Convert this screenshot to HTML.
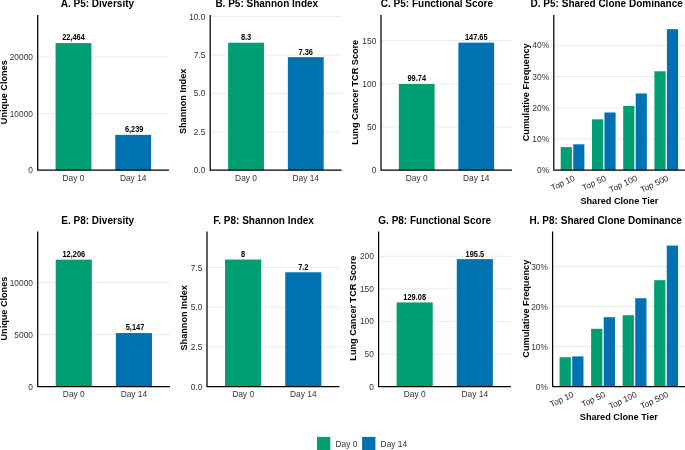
<!DOCTYPE html>
<html><head><meta charset="utf-8"><style>
html,body{margin:0;padding:0;background:#fff;}
body{width:685px;height:450px;overflow:hidden;}
svg{display:block;will-change:transform;font-family:"Liberation Sans",sans-serif;}
</style></head><body>
<svg width="685" height="450" viewBox="0 0 685 450">
<rect width="685" height="450" fill="#fff"/>
<text x="33.00" y="173.21" font-size="8.4" font-weight="normal" text-anchor="end" fill="#333333" >0</text>
<line x1="37.70" y1="113.60" x2="169.00" y2="113.60" stroke="#EBEBEB" stroke-width="1.0"/>
<text x="33.00" y="116.61" font-size="8.4" font-weight="normal" text-anchor="end" fill="#333333" >10000</text>
<line x1="37.70" y1="57.00" x2="169.00" y2="57.00" stroke="#EBEBEB" stroke-width="1.0"/>
<text x="33.00" y="60.01" font-size="8.4" font-weight="normal" text-anchor="end" fill="#333333" >20000</text>
<rect x="55.60" y="43.05" width="35.81" height="127.15" fill="#009E73"/>
<text x="0" y="0" font-size="8.4" font-weight="bold" text-anchor="middle" fill="#000" transform="translate(73.51,40.45) scale(0.885,1)">22,464</text>
<rect x="115.29" y="134.89" width="35.81" height="35.31" fill="#0072B2"/>
<text x="0" y="0" font-size="8.4" font-weight="bold" text-anchor="middle" fill="#000" transform="translate(134.19,132.29) scale(0.885,1)">6,239</text>
<path d="M37.70,15.00 L37.70,170.20 L169.00,170.20" fill="none" stroke="#000" stroke-width="1.25" stroke-linejoin="round"/>
<text x="73.51" y="180.91" font-size="8.4" font-weight="normal" text-anchor="middle" fill="#333333" >Day 0</text>
<text x="133.19" y="180.91" font-size="8.4" font-weight="normal" text-anchor="middle" fill="#333333" >Day 14</text>
<text x="0" y="0" font-size="9.15" font-weight="bold" text-anchor="middle" fill="#000" transform="translate(6.90,92.20) rotate(-90)">Unique Clones</text>
<text x="60.70" y="7.30" font-size="10" font-weight="bold" text-anchor="start" fill="#000" >A. P5: Diversity</text>
<text x="205.50" y="173.21" font-size="8.4" font-weight="normal" text-anchor="end" fill="#333333" >0.0</text>
<line x1="210.20" y1="131.80" x2="341.60" y2="131.80" stroke="#EBEBEB" stroke-width="1.0"/>
<text x="205.50" y="134.81" font-size="8.4" font-weight="normal" text-anchor="end" fill="#333333" >2.5</text>
<line x1="210.20" y1="93.40" x2="341.60" y2="93.40" stroke="#EBEBEB" stroke-width="1.0"/>
<text x="205.50" y="96.41" font-size="8.4" font-weight="normal" text-anchor="end" fill="#333333" >5.0</text>
<line x1="210.20" y1="55.00" x2="341.60" y2="55.00" stroke="#EBEBEB" stroke-width="1.0"/>
<text x="205.50" y="58.01" font-size="8.4" font-weight="normal" text-anchor="end" fill="#333333" >7.5</text>
<line x1="210.20" y1="16.60" x2="341.60" y2="16.60" stroke="#EBEBEB" stroke-width="1.0"/>
<text x="205.50" y="19.61" font-size="8.4" font-weight="normal" text-anchor="end" fill="#333333" >10.0</text>
<rect x="228.12" y="42.71" width="35.84" height="127.49" fill="#009E73"/>
<text x="0" y="0" font-size="8.4" font-weight="bold" text-anchor="middle" fill="#000" transform="translate(246.04,40.11) scale(0.885,1)">8.3</text>
<rect x="287.85" y="57.15" width="35.84" height="113.05" fill="#0072B2"/>
<text x="0" y="0" font-size="8.4" font-weight="bold" text-anchor="middle" fill="#000" transform="translate(305.76,54.55) scale(0.885,1)">7.36</text>
<path d="M210.20,15.00 L210.20,170.20 L341.60,170.20" fill="none" stroke="#000" stroke-width="1.25" stroke-linejoin="round"/>
<text x="246.04" y="180.91" font-size="8.4" font-weight="normal" text-anchor="middle" fill="#333333" >Day 0</text>
<text x="305.76" y="180.91" font-size="8.4" font-weight="normal" text-anchor="middle" fill="#333333" >Day 14</text>
<text x="0" y="0" font-size="9.15" font-weight="bold" text-anchor="middle" fill="#000" transform="translate(186.30,101.40) rotate(-90)">Shannon Index</text>
<text x="215.40" y="7.30" font-size="10" font-weight="bold" text-anchor="start" fill="#000" >B. P5: Shannon Index</text>
<text x="376.30" y="173.21" font-size="8.4" font-weight="normal" text-anchor="end" fill="#333333" >0</text>
<line x1="381.00" y1="127.00" x2="512.00" y2="127.00" stroke="#EBEBEB" stroke-width="1.0"/>
<text x="376.30" y="130.01" font-size="8.4" font-weight="normal" text-anchor="end" fill="#333333" >50</text>
<line x1="381.00" y1="83.80" x2="512.00" y2="83.80" stroke="#EBEBEB" stroke-width="1.0"/>
<text x="376.30" y="86.81" font-size="8.4" font-weight="normal" text-anchor="end" fill="#333333" >100</text>
<line x1="381.00" y1="40.60" x2="512.00" y2="40.60" stroke="#EBEBEB" stroke-width="1.0"/>
<text x="376.30" y="43.61" font-size="8.4" font-weight="normal" text-anchor="end" fill="#333333" >150</text>
<rect x="398.86" y="84.02" width="35.73" height="86.18" fill="#009E73"/>
<text x="0" y="0" font-size="8.4" font-weight="bold" text-anchor="middle" fill="#000" transform="translate(416.73,81.42) scale(0.885,1)">99.74</text>
<rect x="458.41" y="42.63" width="35.73" height="127.57" fill="#0072B2"/>
<text x="0" y="0" font-size="8.4" font-weight="bold" text-anchor="middle" fill="#000" transform="translate(476.27,40.03) scale(0.885,1)">147.65</text>
<path d="M381.00,15.00 L381.00,170.20 L512.00,170.20" fill="none" stroke="#000" stroke-width="1.25" stroke-linejoin="round"/>
<text x="416.73" y="180.91" font-size="8.4" font-weight="normal" text-anchor="middle" fill="#333333" >Day 0</text>
<text x="476.27" y="180.91" font-size="8.4" font-weight="normal" text-anchor="middle" fill="#333333" >Day 14</text>
<text x="0" y="0" font-size="9.15" font-weight="bold" text-anchor="middle" fill="#000" transform="translate(358.30,92.30) rotate(-90)">Lung Cancer TCR Score</text>
<text x="380.80" y="7.30" font-size="10" font-weight="bold" text-anchor="start" fill="#000" >C. P5: Functional Score</text>
<text x="549.10" y="173.21" font-size="8.4" font-weight="normal" text-anchor="end" fill="#333333" >0%</text>
<line x1="553.80" y1="139.00" x2="685.00" y2="139.00" stroke="#EBEBEB" stroke-width="1.0"/>
<text x="549.10" y="142.01" font-size="8.4" font-weight="normal" text-anchor="end" fill="#333333" >10%</text>
<line x1="553.80" y1="107.80" x2="685.00" y2="107.80" stroke="#EBEBEB" stroke-width="1.0"/>
<text x="549.10" y="110.81" font-size="8.4" font-weight="normal" text-anchor="end" fill="#333333" >20%</text>
<line x1="553.80" y1="76.60" x2="685.00" y2="76.60" stroke="#EBEBEB" stroke-width="1.0"/>
<text x="549.10" y="79.61" font-size="8.4" font-weight="normal" text-anchor="end" fill="#333333" >30%</text>
<line x1="553.80" y1="45.40" x2="685.00" y2="45.40" stroke="#EBEBEB" stroke-width="1.0"/>
<text x="549.10" y="48.41" font-size="8.4" font-weight="normal" text-anchor="end" fill="#333333" >40%</text>
<rect x="560.72" y="147.11" width="11.15" height="23.09" fill="#009E73"/>
<rect x="573.21" y="144.30" width="11.15" height="25.90" fill="#0072B2"/>
<rect x="591.96" y="119.34" width="11.15" height="50.86" fill="#009E73"/>
<rect x="604.45" y="112.48" width="11.15" height="57.72" fill="#0072B2"/>
<rect x="623.20" y="105.93" width="11.15" height="64.27" fill="#009E73"/>
<rect x="635.69" y="93.45" width="11.15" height="76.75" fill="#0072B2"/>
<rect x="654.43" y="71.30" width="11.15" height="98.90" fill="#009E73"/>
<rect x="666.93" y="29.18" width="11.15" height="141.02" fill="#0072B2"/>
<path d="M553.80,15.00 L553.80,170.20 L685.00,170.20" fill="none" stroke="#000" stroke-width="1.25" stroke-linejoin="round"/>
<text x="0" y="6.01" font-size="8.4" text-anchor="end" fill="#222" transform="translate(572.84,174.70) rotate(-25)">Top 10</text>
<text x="0" y="6.01" font-size="8.4" text-anchor="end" fill="#222" transform="translate(604.08,174.70) rotate(-25)">Top 50</text>
<text x="0" y="6.01" font-size="8.4" text-anchor="end" fill="#222" transform="translate(635.32,174.70) rotate(-25)">Top 100</text>
<text x="0" y="6.01" font-size="8.4" text-anchor="end" fill="#222" transform="translate(666.56,174.70) rotate(-25)">Top 500</text>
<text x="0" y="0" font-size="9.15" font-weight="bold" text-anchor="middle" fill="#000" transform="translate(528.60,92.30) rotate(-90)">Cumulative Frequency</text>
<text x="619.40" y="203.70" font-size="9.15" font-weight="bold" text-anchor="middle" fill="#000" >Shared Clone Tier</text>
<text x="530.60" y="7.30" font-size="10" font-weight="bold" text-anchor="start" fill="#000" >D. P5: Shared Clone Dominance</text>
<text x="33.00" y="389.61" font-size="8.4" font-weight="normal" text-anchor="end" fill="#333333" >0</text>
<line x1="37.70" y1="334.60" x2="170.00" y2="334.60" stroke="#EBEBEB" stroke-width="1.0"/>
<text x="33.00" y="337.61" font-size="8.4" font-weight="normal" text-anchor="end" fill="#333333" >5000</text>
<line x1="37.70" y1="282.60" x2="170.00" y2="282.60" stroke="#EBEBEB" stroke-width="1.0"/>
<text x="33.00" y="285.61" font-size="8.4" font-weight="normal" text-anchor="end" fill="#333333" >10000</text>
<rect x="55.74" y="259.66" width="36.08" height="126.94" fill="#009E73"/>
<text x="0" y="0" font-size="8.4" font-weight="bold" text-anchor="middle" fill="#000" transform="translate(73.78,257.06) scale(0.885,1)">12,206</text>
<rect x="115.88" y="333.07" width="36.08" height="53.53" fill="#0072B2"/>
<text x="0" y="0" font-size="8.4" font-weight="bold" text-anchor="middle" fill="#000" transform="translate(135.02,330.47) scale(0.885,1)">5,147</text>
<path d="M37.70,231.40 L37.70,386.60 L170.00,386.60" fill="none" stroke="#000" stroke-width="1.25" stroke-linejoin="round"/>
<text x="73.78" y="397.31" font-size="8.4" font-weight="normal" text-anchor="middle" fill="#333333" >Day 0</text>
<text x="133.92" y="397.31" font-size="8.4" font-weight="normal" text-anchor="middle" fill="#333333" >Day 14</text>
<text x="0" y="0" font-size="9.15" font-weight="bold" text-anchor="middle" fill="#000" transform="translate(6.90,308.60) rotate(-90)">Unique Clones</text>
<text x="61.30" y="224.00" font-size="10" font-weight="bold" text-anchor="start" fill="#000" >E. P8: Diversity</text>
<text x="202.30" y="389.61" font-size="8.4" font-weight="normal" text-anchor="end" fill="#333333" >0.0</text>
<line x1="207.00" y1="346.90" x2="339.40" y2="346.90" stroke="#EBEBEB" stroke-width="1.0"/>
<text x="202.30" y="349.91" font-size="8.4" font-weight="normal" text-anchor="end" fill="#333333" >2.5</text>
<line x1="207.00" y1="307.20" x2="339.40" y2="307.20" stroke="#EBEBEB" stroke-width="1.0"/>
<text x="202.30" y="310.21" font-size="8.4" font-weight="normal" text-anchor="end" fill="#333333" >5.0</text>
<line x1="207.00" y1="267.50" x2="339.40" y2="267.50" stroke="#EBEBEB" stroke-width="1.0"/>
<text x="202.30" y="270.51" font-size="8.4" font-weight="normal" text-anchor="end" fill="#333333" >7.5</text>
<rect x="225.05" y="259.56" width="36.11" height="127.04" fill="#009E73"/>
<text x="0" y="0" font-size="8.4" font-weight="bold" text-anchor="middle" fill="#000" transform="translate(243.11,256.96) scale(0.885,1)">8</text>
<rect x="285.24" y="272.26" width="36.11" height="114.34" fill="#0072B2"/>
<text x="0" y="0" font-size="8.4" font-weight="bold" text-anchor="middle" fill="#000" transform="translate(303.29,269.66) scale(0.885,1)">7.2</text>
<path d="M207.00,231.40 L207.00,386.60 L339.40,386.60" fill="none" stroke="#000" stroke-width="1.25" stroke-linejoin="round"/>
<text x="243.11" y="397.31" font-size="8.4" font-weight="normal" text-anchor="middle" fill="#333333" >Day 0</text>
<text x="303.29" y="397.31" font-size="8.4" font-weight="normal" text-anchor="middle" fill="#333333" >Day 14</text>
<text x="0" y="0" font-size="9.15" font-weight="bold" text-anchor="middle" fill="#000" transform="translate(187.00,317.80) rotate(-90)">Shannon Index</text>
<text x="213.30" y="224.00" font-size="10" font-weight="bold" text-anchor="start" fill="#000" >F. P8: Shannon Index</text>
<text x="373.90" y="389.61" font-size="8.4" font-weight="normal" text-anchor="end" fill="#333333" >0</text>
<line x1="378.60" y1="354.00" x2="510.90" y2="354.00" stroke="#EBEBEB" stroke-width="1.0"/>
<text x="373.90" y="357.01" font-size="8.4" font-weight="normal" text-anchor="end" fill="#333333" >50</text>
<line x1="378.60" y1="321.40" x2="510.90" y2="321.40" stroke="#EBEBEB" stroke-width="1.0"/>
<text x="373.90" y="324.41" font-size="8.4" font-weight="normal" text-anchor="end" fill="#333333" >100</text>
<line x1="378.60" y1="288.80" x2="510.90" y2="288.80" stroke="#EBEBEB" stroke-width="1.0"/>
<text x="373.90" y="291.81" font-size="8.4" font-weight="normal" text-anchor="end" fill="#333333" >150</text>
<line x1="378.60" y1="256.20" x2="510.90" y2="256.20" stroke="#EBEBEB" stroke-width="1.0"/>
<text x="373.90" y="259.21" font-size="8.4" font-weight="normal" text-anchor="end" fill="#333333" >200</text>
<rect x="396.64" y="302.44" width="36.08" height="84.16" fill="#009E73"/>
<text x="0" y="0" font-size="8.4" font-weight="bold" text-anchor="middle" fill="#000" transform="translate(414.68,299.84) scale(0.885,1)">129.08</text>
<rect x="456.78" y="259.13" width="36.08" height="127.47" fill="#0072B2"/>
<text x="0" y="0" font-size="8.4" font-weight="bold" text-anchor="middle" fill="#000" transform="translate(474.82,256.53) scale(0.885,1)">195.5</text>
<path d="M378.60,231.40 L378.60,386.60 L510.90,386.60" fill="none" stroke="#000" stroke-width="1.25" stroke-linejoin="round"/>
<text x="414.68" y="397.31" font-size="8.4" font-weight="normal" text-anchor="middle" fill="#333333" >Day 0</text>
<text x="474.82" y="397.31" font-size="8.4" font-weight="normal" text-anchor="middle" fill="#333333" >Day 14</text>
<text x="0" y="0" font-size="9.15" font-weight="bold" text-anchor="middle" fill="#000" transform="translate(356.20,308.20) rotate(-90)">Lung Cancer TCR Score</text>
<text x="378.30" y="224.00" font-size="10" font-weight="bold" text-anchor="start" fill="#000" >G. P8: Functional Score</text>
<text x="547.90" y="389.61" font-size="8.4" font-weight="normal" text-anchor="end" fill="#333333" >0%</text>
<line x1="552.60" y1="346.60" x2="685.00" y2="346.60" stroke="#EBEBEB" stroke-width="1.0"/>
<text x="547.90" y="349.61" font-size="8.4" font-weight="normal" text-anchor="end" fill="#333333" >10%</text>
<line x1="552.60" y1="306.60" x2="685.00" y2="306.60" stroke="#EBEBEB" stroke-width="1.0"/>
<text x="547.90" y="309.61" font-size="8.4" font-weight="normal" text-anchor="end" fill="#333333" >20%</text>
<line x1="552.60" y1="266.60" x2="685.00" y2="266.60" stroke="#EBEBEB" stroke-width="1.0"/>
<text x="547.90" y="269.61" font-size="8.4" font-weight="normal" text-anchor="end" fill="#333333" >30%</text>
<rect x="559.58" y="357.20" width="11.25" height="29.40" fill="#009E73"/>
<rect x="572.19" y="356.40" width="11.25" height="30.20" fill="#0072B2"/>
<rect x="591.11" y="328.80" width="11.25" height="57.80" fill="#009E73"/>
<rect x="603.72" y="317.20" width="11.25" height="69.40" fill="#0072B2"/>
<rect x="622.63" y="315.20" width="11.25" height="71.40" fill="#009E73"/>
<rect x="635.24" y="298.20" width="11.25" height="88.40" fill="#0072B2"/>
<rect x="654.15" y="280.20" width="11.25" height="106.40" fill="#009E73"/>
<rect x="666.76" y="245.60" width="11.25" height="141.00" fill="#0072B2"/>
<path d="M552.60,231.40 L552.60,386.60 L685.00,386.60" fill="none" stroke="#000" stroke-width="1.25" stroke-linejoin="round"/>
<text x="0" y="6.01" font-size="8.4" text-anchor="end" fill="#222" transform="translate(571.81,391.10) rotate(-25)">Top 10</text>
<text x="0" y="6.01" font-size="8.4" text-anchor="end" fill="#222" transform="translate(603.34,391.10) rotate(-25)">Top 50</text>
<text x="0" y="6.01" font-size="8.4" text-anchor="end" fill="#222" transform="translate(634.86,391.10) rotate(-25)">Top 100</text>
<text x="0" y="6.01" font-size="8.4" text-anchor="end" fill="#222" transform="translate(666.39,391.10) rotate(-25)">Top 500</text>
<text x="0" y="0" font-size="9.15" font-weight="bold" text-anchor="middle" fill="#000" transform="translate(528.60,308.70) rotate(-90)">Cumulative Frequency</text>
<text x="618.80" y="420.10" font-size="9.15" font-weight="bold" text-anchor="middle" fill="#000" >Shared Clone Tier</text>
<text x="529.60" y="224.00" font-size="10" font-weight="bold" text-anchor="start" fill="#000" >H. P8: Shared Clone Dominance</text>
<rect x="317.00" y="436.90" width="13.30" height="13.30" fill="#009E73"/>
<rect x="362.10" y="436.90" width="13.30" height="13.30" fill="#0072B2"/>
<text x="335.50" y="446.70" font-size="8.4" font-weight="normal" text-anchor="start" fill="#333333" >Day 0</text>
<text x="380.60" y="446.70" font-size="8.4" font-weight="normal" text-anchor="start" fill="#333333" >Day 14</text>
</svg>
</body></html>
